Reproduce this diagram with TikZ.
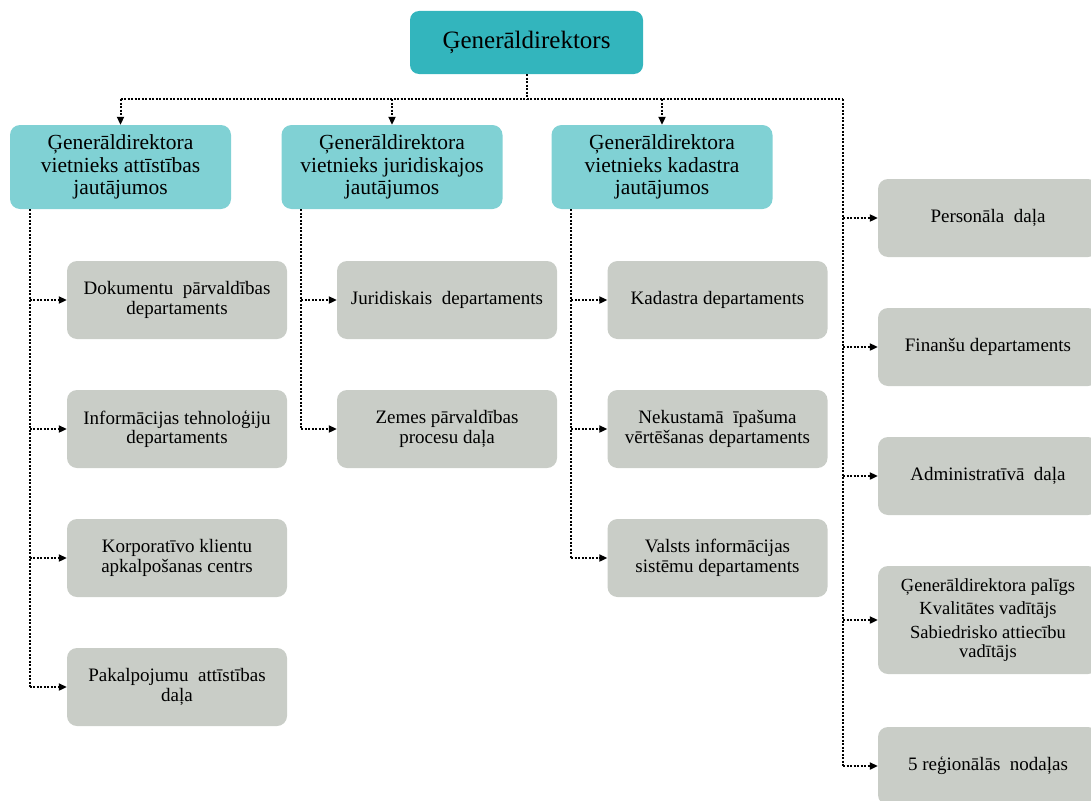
\documentclass[tikz,border=0pt]{standalone}
\usepackage{fontspec}
\setmainfont{Liberation Serif}
\usetikzlibrary{arrows.meta}
\definecolor{headteal}{RGB}{51,181,189}
\definecolor{deputyteal}{RGB}{128,209,212}
\definecolor{unitgrey}{RGB}{201,205,199}

\begin{document}
\begin{tikzpicture}[x=1pt,y=-1pt]
            \tikzstyle{every node}+=[inner sep=0pt, align=center, text=black]
            \tikzstyle{head}=[fill=headteal, rounded corners=9pt, minimum width=233pt, minimum height=63pt, font=\fontsize{25}{29}\selectfont]
            \tikzstyle{deputy}=[fill=deputyteal, rounded corners=10pt, minimum width=221pt, minimum height=84pt, font=\fontsize{21.5}{22.5}\selectfont]
            \tikzstyle{unit}=[fill=unitgrey, rounded corners=10pt, minimum width=220pt, minimum height=78pt, font=\fontsize{19}{19.5}\selectfont]
            \tikzstyle{link}=[line width=2pt, dash pattern=on 2pt off 1.5pt]
            \tikzstyle{arr}=[link, -{Triangle[length=8pt,width=7pt]}]
            \useasboundingbox (0,0) rectangle (1091,800);
            % top
            \node [head] (gd) at (526.5,42.5) {Ģenerāldirektors};
            % deputies
            \node [deputy] (v1) at (120.5,167) {Ģenerāldirektora\\vietnieks attīstības\\jautājumos};
            \node [deputy] (v2) at (392,167) {Ģenerāldirektora\\vietnieks juridiskajos\\jautājumos};
            \node [deputy] (v3) at (662,167) {Ģenerāldirektora\\vietnieks kadastra\\jautājumos};
            % first column
            \node [unit] (d1) at (177,300) {Dokumentu\ \ pārvaldības\\departaments};
            \node [unit] (d2) at (177,429) {Informācijas tehnoloģiju\\departaments};
            \node [unit] (d3) at (177,558) {Korporatīvo klientu\\apkalpošanas centrs};
            \node [unit] (d4) at (177,687) {Pakalpojumu\ \ attīstības\\daļa};
            % second column
            \node [unit] (j1) at (447,300) {Juridiskais\ \ departaments};
            \node [unit] (j2) at (447,429) {Zemes pārvaldības\\procesu daļa};
            % third column
            \node [unit] (k1) at (717.5,300) {Kadastra departaments};
            \node [unit] (k2) at (717.5,429) {Nekustamā\ \ īpašuma\\vērtēšanas departaments};
            \node [unit] (k3) at (717.5,558) {Valsts informācijas\\sistēmu departaments};
            % right column
            \node [unit] (r1) at (988,218) {Personāla\ \ daļa};
            \node [unit] (r2) at (988,347) {Finanšu departaments};
            \node [unit] (r3) at (988,476) {Administratīvā\ \ daļa};
            \node [unit, minimum height=108pt, font=\fontsize{18.5}{19.5}\selectfont] (r4) at (988,620) {Ģenerāldirektora palīgs\\[4pt]Kvalitātes vadītājs\\[4pt]Sabiedrisko attiecību\\vadītājs};
            \node [unit] (r5) at (988,766) {5 reģionālās\ \ nodaļas};
            % bus
            \coordinate (j) at (526.5,99);
            \coordinate (rt) at (843,99);
            \draw [link] (gd.south) -- (j);
            \draw [link] (v1.north |- j) -- (rt);
            \draw [arr] (v1.north |- j) -- (v1.north);
            \draw [arr] (v2.north |- j) -- (v2.north);
            \draw [arr] (v3.north |- j) -- (v3.north);
            \draw [link] (rt) -- (rt |- r5);
            \foreach \n in {r1,r2,r3,r4,r5}
                \draw [arr] (rt |- \n) -- (\n.west);
            % trunks
            \coordinate (t1) at ([xshift=20pt]v1.south west);
            \coordinate (t2) at ([xshift=20pt]v2.south west);
            \coordinate (t3) at ([xshift=20pt]v3.south west);
            \draw [link] (t1) -- (t1 |- d4);
            \draw [link] (t2) -- (t2 |- j2);
            \draw [link] (t3) -- (t3 |- k3);
            \foreach \n in {d1,d2,d3,d4}
                \draw [arr] (t1 |- \n) -- (\n.west);
            \foreach \n in {j1,j2}
                \draw [arr] (t2 |- \n) -- (\n.west);
            \foreach \n in {k1,k2,k3}
                \draw [arr] (t3 |- \n) -- (\n.west);
\end{tikzpicture}
\end{document}
